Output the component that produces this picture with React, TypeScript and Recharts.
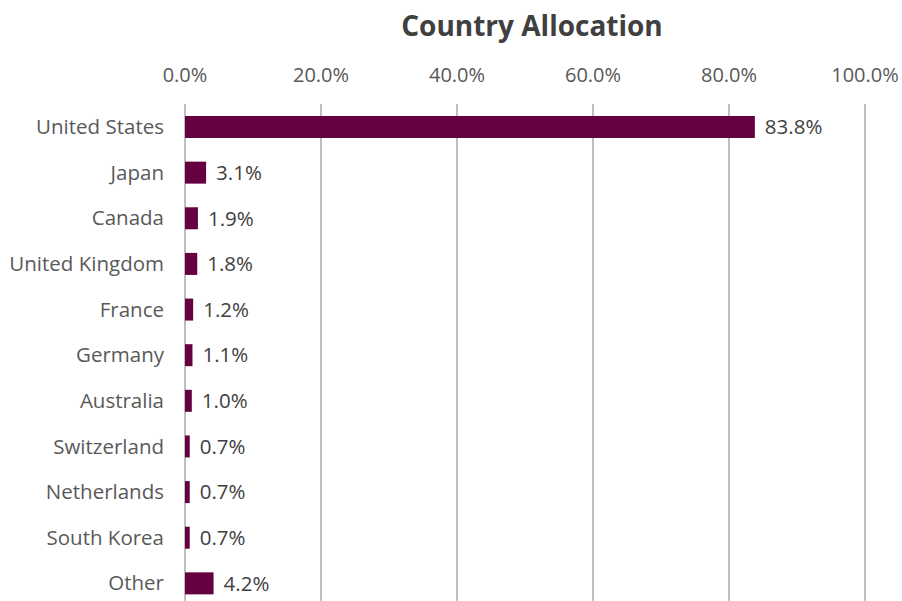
import React from "react";
import { BarChart, Bar, XAxis, YAxis, CartesianGrid, LabelList } from "recharts";

const countries = [
  "United States",
  "Japan",
  "Canada",
  "United Kingdom",
  "France",
  "Germany",
  "Australia",
  "Switzerland",
  "Netherlands",
  "South Korea",
  "Other",
];
const allocations = [83.8, 3.1, 1.9, 1.8, 1.2, 1.1, 1.0, 0.7, 0.7, 0.7, 4.2];
const xTicks = [0, 20, 40, 60, 80, 100];

const data = countries.map((c, i) => ({ country: c, value: allocations[i] }));

const FONT = "'Open Sans', sans-serif";
const FS = 20.5;

export default function App() {
  return (
    <div style={{ position: "fixed", left: 0, top: 0, width: 902, height: 601, overflow: "hidden", background: "#fff" }}>
      <div
        style={{
          position: "absolute",
          left: 0,
          top: 6,
          width: 1064,
          textAlign: "center",
          fontFamily: FONT,
          fontWeight: 700,
          fontSize: 28,
          color: "#404040",
          lineHeight: "38px",
        }}
      >
        Country Allocation
      </div>
      <BarChart
        width={902}
        height={610}
        data={data}
        layout="vertical"
        margin={{ top: 64, right: 37, bottom: 4, left: 0 }}
        barCategoryGap={0}
        style={{ overflow: "visible" }}
      >
        <CartesianGrid horizontal={false} stroke="#BFBFBF" strokeWidth={2} />
        <XAxis
          type="number"
          orientation="top"
          domain={[0, 100]}
          ticks={xTicks}
          tickFormatter={(v: number) => `${v.toFixed(1)}%`}
          axisLine={false}
          tickLine={false}
          tickSize={0}
          tickMargin={22}
          height={40}
          interval={0}
          tick={{ fill: "#595959", fontSize: 20, fontFamily: FONT }}
        />
        <YAxis
          type="category"
          dataKey="country"
          width={185}
          axisLine={false}
          tickLine={false}
          tickSize={0}
          tickMargin={21}
          interval={0}
          tick={{ fill: "#595959", fontSize: FS, fontFamily: FONT }}
        />
        <Bar dataKey="value" fill="#650041" barSize={22} isAnimationActive={false}>
          <LabelList
            dataKey="value"
            position="right"
            offset={10}
            formatter={(v: number) => `${v.toFixed(1)}%`}
            style={{ fill: "#404040", fontSize: FS, fontFamily: FONT }}
          />
        </Bar>
      </BarChart>
    </div>
  );
}
